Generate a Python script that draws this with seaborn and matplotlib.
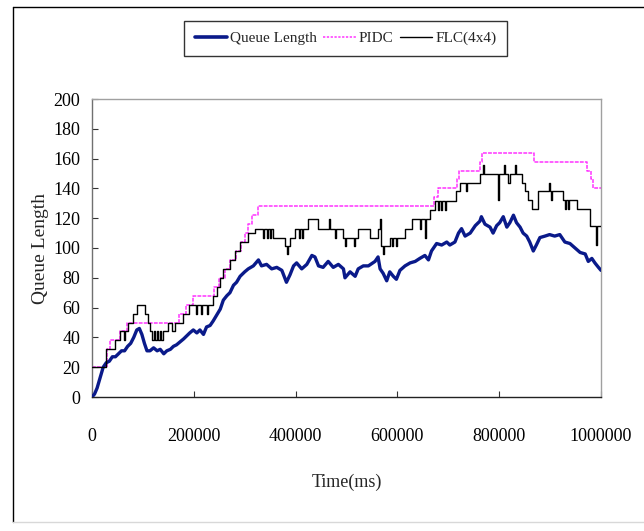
import matplotlib
matplotlib.use("Agg")
import matplotlib.pyplot as plt
import seaborn as sns
import pandas as pd
import numpy as np
from matplotlib.lines import Line2D

sns.set_theme(style="white")
plt.rcParams['font.family'] = ['Liberation Serif', 'DejaVu Serif']

# ---- data (time in thousands of ms) ----
queue_t = [0, 5, 10, 16, 22, 28, 34, 40, 46, 52, 58, 64, 70, 76, 82, 88, 93, 98, 103, 108,
           114, 121, 128, 134, 141, 147, 154, 160, 166, 173, 180, 186, 192, 199, 206, 212, 219, 225, 232, 238,
           245, 252, 258, 265, 271, 278, 284, 291, 300, 307, 317, 327, 333, 343, 353, 363, 373, 382, 389, 396,
           402, 412, 422, 432, 438, 445, 454, 464, 474, 484, 494, 497, 507, 517, 523, 533, 543, 556, 562, 566,
           572, 579, 585, 592, 598, 605, 615, 625, 635, 644, 654, 661, 667, 677, 687, 697, 703, 713, 720, 726,
           733, 743, 753, 762, 765, 772, 782, 788, 795, 801, 808, 815, 821, 828, 834, 841, 847, 854, 860, 867,
           873, 880, 890, 899, 909, 919, 929, 939, 949, 959, 969, 975, 982, 988, 995, 1000]
queue_v = [0, 2, 6, 13, 20, 23, 24, 27, 27, 29, 31, 31, 34, 36, 40, 45, 46, 42, 36, 31,
           31, 33, 31, 32, 29, 31, 32, 34, 35, 37, 39, 41, 43, 45, 43, 45, 42, 47, 48, 51,
           55, 59, 65, 68, 70, 75, 77, 81, 84, 86, 88, 92, 88, 89, 86, 87, 85, 77, 82, 88,
           90, 86, 89, 95, 94, 88, 87, 91, 87, 89, 86, 80, 84, 81, 86, 88, 88, 91, 94, 86,
           83, 78, 84, 81, 79, 85, 88, 90, 91, 93, 95, 92, 98, 103, 102, 104, 102, 104, 110, 113,
           108, 110, 115, 118, 121, 116, 114, 110, 115, 117, 121, 114, 117, 122, 117, 114, 110, 108, 104, 98,
           102, 107, 108, 109, 108, 109, 104, 103, 100, 97, 96, 91, 93, 90, 87, 85]

pidc_t = [0, 30, 35, 55, 68, 170, 185, 198, 240, 250, 262, 272, 282, 292, 300, 307, 315, 326,
          672, 679, 718, 722, 762, 766, 869, 972, 980, 985, 1000]
pidc_v = [20, 32, 38, 44, 50, 56, 62, 68, 74, 80, 86, 92, 98, 104, 110, 116, 122, 128,
          134, 140, 146, 152, 158, 164, 158, 152, 146, 140, 140]

flc_t = [0, 27, 45, 55, 62, 64, 70, 80, 88, 104, 110, 114, 118, 121, 124, 127, 130, 133, 136, 139,
         150, 157, 163, 178, 190, 204, 206, 214, 216, 226, 228, 238, 245, 252, 258, 271, 281, 291, 307, 320,
         335, 337, 343, 345, 350, 352, 356, 379, 384, 386, 389, 399, 406, 408, 412, 414, 424, 444, 466, 468,
         478, 480, 494, 497, 499, 515, 517, 523, 546, 562, 566, 568, 572, 574, 585, 590, 592, 597, 599, 615,
         628, 645, 647, 655, 657, 664, 674, 680, 682, 686, 688, 693, 695, 716, 723, 735, 737, 762, 768, 770,
         797, 799, 809, 811, 818, 821, 831, 833, 844, 850, 857, 864, 876, 897, 899, 902, 904, 925, 930, 932,
         936, 938, 952, 978, 991, 993, 1000]
flc_v = [20, 32, 38, 44, 38, 44, 50, 56, 62, 56, 50, 44, 38, 44, 38, 44, 38, 44, 38, 44,
         50, 44, 50, 56, 62, 56, 62, 56, 62, 56, 62, 68, 74, 80, 86, 92, 98, 104, 110, 113,
         107, 113, 107, 113, 107, 113, 107, 101.5, 96, 101.5, 107, 113, 107, 113, 107, 113, 119.5, 113, 119.5, 113,
         107, 113, 107, 101.5, 107, 101.5, 107, 113, 107, 113, 119.5, 101.5, 96, 101.5, 107, 101.5, 107, 101.5, 107, 113,
         119.5, 113, 119.5, 107, 119.5, 125.5, 131.5, 125.5, 131.5, 125.5, 131.5, 125.5, 131.5, 138, 143.5, 138, 143.5, 150, 156, 150,
         132, 150, 156, 150, 143.5, 150, 156, 150, 143.5, 138, 132, 126.5, 138, 143.5, 138, 132, 138, 132, 126.5, 132,
         126.5, 132, 126.5, 115, 102, 115, 115]

x_ticks = [0, 200000, 400000, 600000, 800000, 1000000]
y_ticks = list(range(0, 201, 20))

# ---- figure ----
W, H = 644, 531
fig = plt.figure(figsize=(W / 100, H / 100), dpi=100)
fig.patch.set_facecolor('white')
ax = fig.add_axes([92 / W, 1 - 397 / H, 509 / W, 298 / H])

df_q = pd.DataFrame({'t': np.array(queue_t) * 1000, 'v': queue_v})
df_p = pd.DataFrame({'t': np.array(pidc_t) * 1000, 'v': pidc_v})
df_f = pd.DataFrame({'t': np.array(flc_t) * 1000, 'v': flc_v})

sns.lineplot(data=df_q, x='t', y='v', ax=ax, color='#0a1a8a', linewidth=2.4,
             estimator=None, sort=False, legend=False, zorder=3)
sns.lineplot(data=df_p, x='t', y='v', ax=ax, color='#ff33ff', linewidth=1.1,
             linestyle=(0, (2.5, 0.8)), drawstyle='steps-post',
             estimator=None, sort=False, legend=False, zorder=2)
sns.lineplot(data=df_f, x='t', y='v', ax=ax, color='black', linewidth=1.0,
             drawstyle='steps-post', estimator=None, sort=False, legend=False, zorder=4)

ax.set_xlim(0, 1000000)
ax.set_ylim(0, 200)
ax.set_xticks(x_ticks)
ax.set_xticklabels([str(v) for v in x_ticks])
ax.set_yticks(y_ticks)
ax.set_yticklabels([str(v) for v in y_ticks])
ax.tick_params(axis='both', direction='in', length=4, width=0.8, color='#333333',
               labelsize=13, labelcolor='black')
ax.tick_params(axis='x', pad=22)
ax.tick_params(axis='y', pad=8.5)
ax.xaxis.set_ticks_position('bottom')
ax.yaxis.set_ticks_position('left')

for side, col, lw in [('top', '#a0a0a0', 1.0), ('right', '#a0a0a0', 1.0),
                      ('left', '#707070', 1.0), ('bottom', '#222222', 1.0)]:
    ax.spines[side].set_visible(True)
    ax.spines[side].set_color(col)
    ax.spines[side].set_linewidth(lw)

ax.set_xlabel('Time(ms)', fontsize=13)
ax.set_ylabel('Queue Length', fontsize=14)
ax.xaxis.set_label_coords(0.5, -0.258)
ax.yaxis.set_label_coords(-0.085, 0.5)

handles = [Line2D([], [], color='#0a1a8a', linewidth=2.6),
           Line2D([], [], color='#ff33ff', linewidth=1.1, linestyle=(0, (1.5, 1))),
           Line2D([], [], color='black', linewidth=1.0)]
labels = ['Queue Length', 'PIDC', 'FLC(4x4)']
leg = fig.legend(handles, labels, loc='center', ncol=3,
                 bbox_to_anchor=(345.5 / W, 1 - 38.5 / H), bbox_transform=fig.transFigure,
                 frameon=True, fancybox=False, edgecolor='black', fontsize=11,
                 handlelength=2.1, handletextpad=0.2, columnspacing=0.45,
                 borderpad=0.7, borderaxespad=0)
leg.get_frame().set_linewidth(1.0)

# outer chart frame
fig.add_artist(Line2D([13 / W, 13 / W], [1 - 7 / H, 1 - 522 / H], color='black',
                      linewidth=1.0, transform=fig.transFigure))
fig.add_artist(Line2D([13 / W, 1.0], [1 - 7 / H, 1 - 7 / H], color='black',
                      linewidth=1.0, transform=fig.transFigure))
fig.add_artist(Line2D([13 / W, 1.0], [1 - 522 / H, 1 - 522 / H], color='#d8d8d8',
                      linewidth=1.0, transform=fig.transFigure))

fig.savefig('out.png', dpi=100)
